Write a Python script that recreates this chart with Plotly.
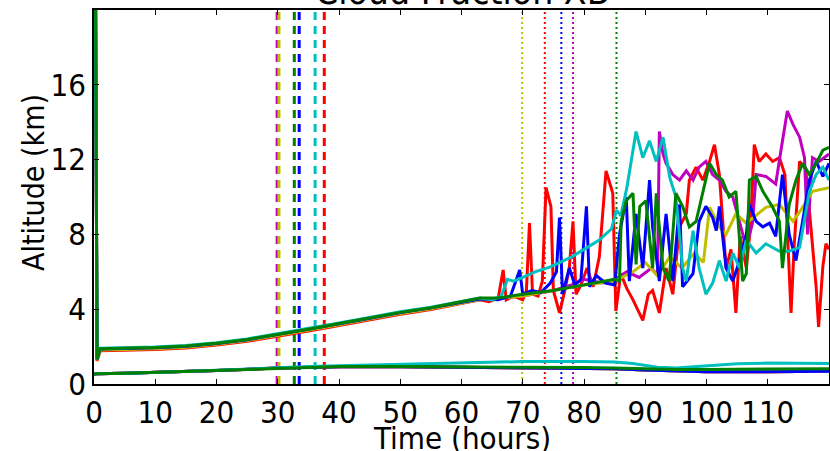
import plotly.graph_objects as go

# ---------------- data ----------------
colors = {"b": "#0000ff", "g": "#008000", "r": "#ff0000",
          "c": "#00bfbf", "m": "#bf00bf", "y": "#bfbf00"}

# common early cloud-top profile (hours, km)
early_top = [(0.2, 25), (0.5, 1.3), (1, 1.85), (5, 1.88), (10, 1.92), (15, 2.0),
             (20, 2.15), (25, 2.35), (30, 2.62), (35, 2.9), (40, 3.2), (45, 3.5),
             (50, 3.8), (55, 4.05), (60, 4.35)]
# small spread of each run around the common early profile (km)
early_spread = {"r": -0.07, "m": 0.0, "y": -0.03, "b": 0.02, "c": 0.06, "g": 0.03}

red_top = [(63, 4.5), (64.5, 4.4), (66, 4.6), (66.8, 6.1), (67.3, 4.5), (68.5, 4.7), (70, 4.5),
           (70.6, 5.0), (71.1, 8.6), (71.6, 4.8), (72.5, 4.7), (73.2, 5.5), (73.8, 10.5), (74.6, 9.5),
           (75.0, 5.0), (76.0, 3.8), (76.8, 4.9), (77.6, 6.2), (78.2, 8.7), (78.7, 4.8), (79.5, 5.3),
           (80.5, 6.2), (81.5, 5.2), (82.5, 6.8), (83.6, 11.4), (84.7, 10.2), (85.2, 3.9), (86.0, 5.9),
           (87.0, 5.1), (88.0, 4.5), (89.6, 3.4), (90.5, 4.8), (91.2, 5.0), (92.3, 3.8), (93.4, 6.2),
           (94.5, 4.8), (95.6, 8.4), (96.7, 9.1), (97.2, 10.9), (98.3, 11.6), (99.4, 10.9), (100.5, 11.9),
           (101.3, 12.8), (102.1, 11.2), (103.2, 6.2), (104.0, 7.2), (104.8, 3.8), (105.5, 7.9),
           (106.5, 6.2), (107.2, 8.5), (107.8, 12.8), (108.6, 11.9), (109.7, 12.3), (110.8, 11.9),
           (111.9, 12.1), (112.8, 11.2), (113.8, 3.8), (114.3, 7.3), (115.2, 11.9), (116.2, 11.5),
           (117.3, 7.3), (117.9, 5.2), (118.3, 3.05), (119.0, 6.3), (119.5, 7.5), (120, 7.2)]

blue_top = [(63, 4.55), (66, 4.5), (68, 4.7), (69.5, 6.1), (70, 4.8), (71.5, 5.0), (73, 4.9),
            (74.5, 5.4), (75.5, 6.0), (76, 8.9), (76.5, 4.8), (77.6, 6.2), (78.5, 5.3), (79.5, 5.6),
            (80.4, 9.5), (80.9, 5.2), (82, 5.8), (83.5, 5.4), (85, 5.3), (85.8, 8.0), (86.9, 10.0),
            (87.4, 5.5), (88.5, 9.1), (89.6, 6.2), (90.7, 10.9), (91.2, 8.4), (92.3, 5.5), (93.4, 9.1),
            (94.5, 5.5), (95.6, 9.6), (96.1, 5.2), (97.8, 5.9), (98.8, 8.7), (99.9, 9.5), (101, 8.9),
            (101.6, 8.2), (102.1, 9.5), (103.2, 6.2), (104.3, 5.5), (105.4, 6.6), (106.5, 8.0),
            (107, 9.6), (108.1, 8.7), (109.2, 8.4), (110.3, 8.6), (111.3, 7.9), (112.4, 11.2),
            (113.5, 8.0), (114.6, 6.6), (115.7, 8.7), (116.8, 10.9), (117.9, 11.9), (119, 11.1),
            (120, 11.8)]

cyan_top = [(63, 4.6), (65, 4.5), (66.5, 4.7), (67.5, 5.6), (68.5, 5.5), (70, 5.7), (72, 6.0),
            (74.4, 6.25), (76, 6.5), (78, 6.8), (80, 7.2), (82.5, 7.7), (84.5, 8.3), (85.3, 9.3),
            (86, 9.0), (87, 10.5), (88.5, 13.5), (89.6, 12.1), (90.7, 13.0), (91.8, 11.9), (92.9, 13.2),
            (94, 11.05), (95, 10.0), (95.6, 8.0), (96.1, 6.2), (96.7, 5.5), (97.8, 8.2), (98.8, 6.2),
            (99.9, 4.8), (101, 5.4), (102.1, 6.6), (103.2, 5.5), (104.3, 7.0), (105.4, 6.2),
            (106.5, 7.7), (108.1, 7.0), (109.7, 7.5), (111.9, 7.1), (113.5, 7.1), (115.2, 7.3),
            (116, 8.7), (116.8, 10.3), (117.9, 11.2), (119, 11.6), (120, 10.9)]

magenta_top = [(63, 4.5), (70, 4.7), (75, 5.0), (78, 5.3), (80, 5.6), (83, 5.4), (85, 5.6),
               (87, 6.0), (89, 5.7), (91, 6.2), (92, 5.8), (92.3, 13.5), (92.9, 12.3), (93.4, 11.8),
               (94.5, 11.2), (95.6, 10.9), (96.7, 11.4), (97.8, 10.9), (98.8, 11.6), (99.9, 11.9),
               (101, 11.2), (102.1, 10.9), (103.2, 10.3), (104.3, 10.0), (105.4, 8.7), (106.5, 7.3),
               (107.5, 8.6), (108.1, 11.2), (109.7, 11.1), (111.3, 10.7), (112.4, 13.0), (113.2, 14.6),
               (114.1, 13.9), (115.2, 13.2), (116, 12.1), (116.5, 8.0), (117.3, 12.1), (118.4, 11.9),
               (120, 12.3)]

yellow_top = [(63, 4.5), (70, 4.7), (75, 5.0), (80, 5.3), (85, 5.5), (88, 6.0), (90, 6.5),
              (92, 5.8), (94, 6.8), (96, 6.2), (98, 7.0), (99.5, 6.5), (100.5, 9.45), (102.1, 8.4),
              (103.2, 8.0), (104.8, 9.1), (106.5, 8.6), (108, 9.0), (109.7, 9.45), (111.9, 9.6),
              (114.1, 8.7), (115.2, 9.2), (117.3, 10.3), (120, 10.5)]

green_top = [(63, 4.6), (66, 4.6), (70, 4.8), (75, 5.0), (80, 5.3), (83, 5.5), (85, 5.6),
             (85.8, 5.5), (86.06, 8.7), (86.9, 9.8), (88, 10.2), (88.5, 6.4), (89.1, 9.5), (90.1, 9.8),
             (91.2, 6.2), (91.8, 10.2), (92.9, 6.2), (93.9, 5.5), (95.0, 10.2), (96.1, 9.5), (97.2, 8.4),
             (98.3, 8.7), (99.4, 10.3), (100.5, 11.8), (101.6, 11.2), (102.6, 10.9), (103.7, 10.0),
             (104.8, 10.3), (105.9, 5.5), (106.5, 5.9), (107, 10.9), (108.1, 11.1), (109.2, 10.3),
             (110.8, 9.45), (111.9, 8.7), (112.4, 6.2), (113.5, 9.6), (114.6, 10.9), (115.7, 11.8),
             (116.8, 11.2), (117.9, 11.8), (119, 12.5), (120, 12.65)]

# cloud-base lines
base_common = [(0, 0.5), (0.3, 0.55), (5, 0.58), (10, 0.62), (20, 0.72), (30, 0.85), (35, 0.9),
               (40, 0.92), (50, 0.92), (60, 0.9), (70, 0.88), (80, 0.85), (85, 0.82), (90, 0.75),
               (95, 0.7), (100, 0.66), (110, 0.66), (120, 0.68)]
base_cyan = [(0, 0.5), (0.3, 0.55), (5, 0.58), (10, 0.62), (20, 0.74), (30, 0.88), (35, 0.93),
             (40, 0.97), (50, 1.06), (60, 1.15), (70, 1.2), (80, 1.2), (85, 1.18), (88, 1.1),
             (92, 0.9), (95, 0.85), (100, 0.95), (105, 1.08), (110, 1.12), (120, 1.1)]
base_green = [(0, 0.5), (0.3, 0.55), (5, 0.58), (10, 0.63), (20, 0.73), (30, 0.86), (35, 0.91),
              (40, 0.93), (50, 0.93), (60, 0.92), (70, 0.9), (80, 0.88), (85, 0.85), (90, 0.8),
              (95, 0.78), (100, 0.78), (110, 0.8), (120, 0.82)]

# event markers (hours)
dashed_events = [("m", 29.9), ("y", 30.2), ("g", 32.7), ("b", 33.5), ("c", 36.1), ("r", 37.6)]
dotted_events = [("y", 69.9), ("r", 73.6), ("b", 76.3), ("m", 78.2), ("g", 85.3)]

title_text = "Cloud Fraction XB"
x_title = "Time (hours)"
y_title = "Altitude (km)"
x_ticks = [0, 10, 20, 30, 40, 50, 60, 70, 80, 90, 100, 110]
y_ticks = [0, 4, 8, 12, 16]

# ---------------- figure ----------------
fig = go.Figure()

for key, xv in dashed_events:
    fig.add_trace(go.Scatter(x=[xv, xv], y=[0, 20], mode="lines",
                             line=dict(color=colors[key], width=3, dash="8px,6px"),
                             hoverinfo="skip", showlegend=False))
for key, xv in dotted_events:
    fig.add_trace(go.Scatter(x=[xv, xv], y=[0, 20], mode="lines",
                             line=dict(color=colors[key], width=2, dash="2px,3px"),
                             hoverinfo="skip", showlegend=False))

series = [("r", red_top, base_common), ("m", magenta_top, base_common),
          ("y", yellow_top, base_common), ("b", blue_top, base_common),
          ("c", cyan_top, base_cyan), ("g", green_top, base_green)]

for key, top, base in series:
    d = early_spread[key]
    early = [early_top[0]] + [(t, z + d) for t, z in early_top[1:]]
    pts = early + top
    fig.add_trace(go.Scatter(x=[p[0] for p in pts], y=[p[1] for p in pts], mode="lines",
                             line=dict(color=colors[key], width=3),
                             showlegend=False))
    fig.add_trace(go.Scatter(x=[p[0] for p in base], y=[p[1] for p in base], mode="lines",
                             line=dict(color=colors[key], width=3),
                             showlegend=False))

font = "DejaVu Sans Condensed, DejaVu Sans"
fig.add_annotation(text=title_text, xref="paper", yref="paper", x=0.5, y=1.0,
                   yanchor="bottom", yshift=-5, showarrow=False,
                   font=dict(family=font, size=37, color="black"))
fig.add_annotation(text=x_title, xref="paper", yref="paper", x=0.5, y=-0.145,
                   yanchor="middle", xanchor="center", showarrow=False,
                   font=dict(family=font, size=31, color="black"))
fig.add_annotation(text=y_title, xref="paper", yref="paper", x=-0.083, y=0.54,
                   yanchor="middle", xanchor="center", textangle=-90, showarrow=False,
                   font=dict(family=font, size=30, color="black"))

axis_common = dict(showgrid=False, zeroline=False, showline=True, linecolor="black",
                   linewidth=1.5, mirror="ticks", ticks="inside", ticklen=5,
                   tickcolor="black", tickwidth=1, automargin=False,
                   tickfont=dict(family=font, size=31, color="black"))

fig.update_xaxes(range=[0, 120], tickvals=x_ticks, ticktext=[str(v) for v in x_ticks],
                 **axis_common)
fig.update_yaxes(range=[0, 20], tickvals=y_ticks, ticktext=[str(v) for v in y_ticks],
                 **axis_common)

fig.update_layout(width=830, height=451, margin=dict(l=94, r=1, t=10, b=67),
                  plot_bgcolor="white", paper_bgcolor="white", showlegend=False)

fig.write_html("out.html")
